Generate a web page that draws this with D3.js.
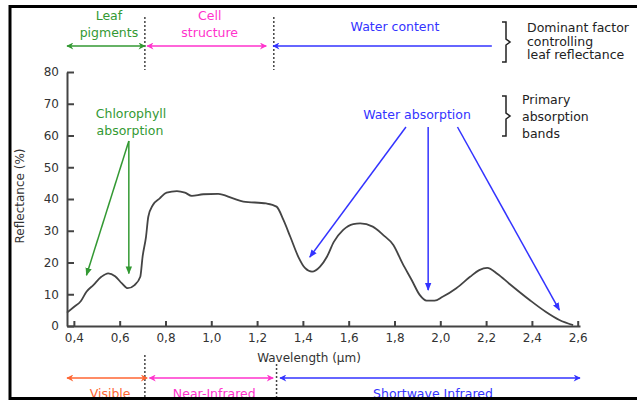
<!DOCTYPE html>
<html>
<head>
<meta charset="utf-8">
<script src="https://cdn.jsdelivr.net/npm/d3@7"></script>
<style>
  body { margin: 0; background: #fff; }
  svg { display: block; font-family: "DejaVu Sans", Verdana, sans-serif; }
</style>
</head>
<body>
<div id="chart"></div>
<script>
// leaf reflectance curve (wavelength in um, reflectance in %)
var wavelength = [0.37, 0.40, 0.43, 0.455, 0.485, 0.52, 0.55, 0.58, 0.61, 0.635, 0.665, 0.69, 0.70, 0.715, 0.725,
    0.745, 0.775, 0.805, 0.85, 0.885, 0.915, 0.965, 1.03, 1.095, 1.14, 1.24, 1.285, 1.315, 1.345, 1.38, 1.41,
    1.44, 1.475, 1.505, 1.535, 1.575, 1.62, 1.65, 1.705, 1.75, 1.795, 1.835, 1.875, 1.91, 1.94, 1.975, 2.01,
    2.07, 2.13, 2.17, 2.205, 2.25, 2.30, 2.39, 2.46, 2.52, 2.58];
var reflectance = [4.2, 6.0, 7.8, 10.8, 12.9, 15.5, 16.6, 15.7, 13.4, 11.9, 12.9, 15.5, 21.8, 28.1, 34.4,
    38.1, 40.2, 42.0, 42.5, 42.0, 41.0, 41.5, 41.6, 40.2, 39.2, 38.6, 37.6, 33.4, 28.1, 21.8, 18.2,
    17.1, 18.7, 21.8, 26.5, 30.2, 32.1, 32.3, 31.3, 28.7, 25.5, 19.7, 14.5, 9.8, 8.0, 8.0, 9.2,
    11.9, 15.5, 17.6, 18.3, 16.4, 13.4, 8.2, 4.5, 1.9, 0.3];

var xTicks = [0.4, 0.6, 0.8, 1.0, 1.2, 1.4, 1.6, 1.8, 2.0, 2.2, 2.4, 2.6];
var yTicks = [0, 10, 20, 30, 40, 50, 60, 70, 80];

// spectral regions (wavelength bounds)
var topBands = [
    {label: ["Leaf", "pigments"], from: 0.37, to: 0.71, color: "#339933", heads: 2},
    {label: ["Cell", "structure"], from: 0.72, to: 1.24, color: "#ff33cc", heads: 2},
    {label: ["Water content"], from: 1.27, to: 2.225, color: "#3333ff", heads: 1}
];
var bottomBands = [
    {label: "Visible", from: 0.37, to: 0.72, color: "#ff6633"},
    {label: "Near-Infrared", from: 0.73, to: 1.27, color: "#ff33cc"},
    {label: "Shortwave Infrared", from: 1.3, to: 2.61, color: "#3333ff"}
];
var dividers = [0.71, 1.273];

// absorption pointers: [start wavelength, end wavelength, end reflectance]
var chlorophyllPointers = [[0.64, 0.455, 16], [0.64, 0.64, 16.5]];
var waterPointers = [[1.85, 1.43, 21.7], [1.947, 1.947, 11.3], [2.075, 2.52, 5.0]];

var width = 637, height = 406;
var fs = "12.5px";

var svg = d3.select("#chart").append("svg")
    .attr("width", width)
    .attr("height", height);

var x = d3.scaleLinear().domain([0.37, 2.61]).range([67, 580]);
var y = d3.scaleLinear().domain([0, 80]).range([326, 72]);

// arrow markers
var defs = svg.append("defs");
function marker(id, color, open) {
    defs.append("marker")
        .attr("id", id)
        .attr("viewBox", "0 0 10 10")
        .attr("refX", 9).attr("refY", 5)
        .attr("markerWidth", open ? 9 : 8).attr("markerHeight", open ? 7 : 8)
        .attr("markerUnits", "userSpaceOnUse")
        .attr("orient", "auto-start-reverse")
        .append("path")
        .attr("d", open ? "M0,0 L10,5 L0,10 L3,5 Z" : "M0,1 L10,5 L0,9 Z")
        .attr("fill", color);
}
marker("mGreen", "#339933", true);
marker("mPink", "#ff33cc", true);
marker("mBlue", "#3333ff", true);
marker("mOrange", "#ff6633", true);
marker("pGreen", "#339933", false);
marker("pBlue", "#3333ff", false);
var markerFor = {"#339933": "mGreen", "#ff33cc": "mPink", "#3333ff": "mBlue", "#ff6633": "mOrange"};

// axes
var xAxis = d3.axisBottom(x)
    .tickValues(xTicks)
    .tickSizeInner(-5)
    .tickSizeOuter(0)
    .tickPadding(7)
    .tickFormat(function(d) { return d3.format(".1f")(d).replace(".", ","); });

var yAxis = d3.axisLeft(y)
    .tickValues(yTicks)
    .tickSizeInner(-7)
    .tickSizeOuter(0)
    .tickPadding(8);

var gx = svg.append("g").attr("transform", "translate(0," + y(0) + ")").call(xAxis);
var gy = svg.append("g").attr("transform", "translate(" + x(0.37) + ",0)").call(yAxis);

[gx, gy].forEach(function(g) {
    g.selectAll("path, line").attr("stroke", "#444").attr("stroke-width", 2);
    g.selectAll("text").attr("fill", "#333").style("font-size", "12px").style("font-family", "DejaVu Sans, Verdana, sans-serif");
});

svg.append("text")
    .attr("transform", "translate(24,196) rotate(-90)")
    .attr("text-anchor", "middle")
    .attr("fill", "#333")
    .style("font-size", "12px")
    .text("Reflectance (%)");

svg.append("text")
    .attr("x", 309).attr("y", 362)
    .attr("text-anchor", "middle")
    .attr("fill", "#333")
    .style("font-size", "12px")
    .text("Wavelength (\u00b5m)");

// curve
var points = wavelength.map(function(w, i) { return [w, reflectance[i]]; });
var line = d3.line()
    .x(function(d) { return x(d[0]); })
    .y(function(d) { return y(d[1]); })
    .curve(d3.curveMonotoneX);

svg.append("path")
    .datum(points)
    .attr("d", line)
    .attr("fill", "none")
    .attr("stroke", "#444")
    .attr("stroke-width", 1.8);

// dashed dividers, top and bottom
dividers.forEach(function(w) {
    svg.append("line")
        .attr("x1", x(w)).attr("x2", x(w))
        .attr("y1", 17).attr("y2", 70)
        .attr("stroke", "#444").attr("stroke-width", 1.5)
        .attr("stroke-dasharray", "2,2");
});
svg.append("line")
    .attr("x1", x(0.71)).attr("x2", x(0.71)).attr("y1", 355).attr("y2", 398)
    .attr("stroke", "#444").attr("stroke-width", 1.5).attr("stroke-dasharray", "2,2");
svg.append("line")
    .attr("x1", x(1.285)).attr("x2", x(1.285)).attr("y1", 364).attr("y2", 398)
    .attr("stroke", "#444").attr("stroke-width", 1.5).attr("stroke-dasharray", "2,2");

// top bands
topBands.forEach(function(b) {
    var l = svg.append("line")
        .attr("x1", x(b.from)).attr("x2", x(b.to))
        .attr("y1", 46).attr("y2", 46)
        .attr("stroke", b.color).attr("stroke-width", 1.6)
        .attr("marker-start", "url(#" + markerFor[b.color] + ")");
    if (b.heads == 2) l.attr("marker-end", "url(#" + markerFor[b.color] + ")");
    var cx = b.label.length == 2 ? (x(b.from) + x(b.to)) / 2 + 3 : 395;
    b.label.forEach(function(t, i) {
        svg.append("text")
            .attr("x", cx).attr("y", b.label.length == 2 ? 20 + i * 17 : 31)
            .attr("text-anchor", "middle")
            .attr("fill", b.color)
            .style("font-size", fs)
            .text(t);
    });
});

// bottom bands
bottomBands.forEach(function(b) {
    svg.append("line")
        .attr("x1", x(b.from)).attr("x2", x(b.to))
        .attr("y1", 378).attr("y2", 378)
        .attr("stroke", b.color).attr("stroke-width", 1.6)
        .attr("marker-start", "url(#" + markerFor[b.color] + ")")
        .attr("marker-end", "url(#" + markerFor[b.color] + ")");
    svg.append("text")
        .attr("x", (x(b.from) + x(b.to)) / 2 + 3).attr("y", 398)
        .attr("text-anchor", "middle")
        .attr("fill", b.color)
        .style("font-size", fs)
        .text(b.label);
});

// chlorophyll absorption pointers
svg.append("text").attr("x", 131).attr("y", 118).attr("text-anchor", "middle")
    .attr("fill", "#339933").style("font-size", fs).text("Chlorophyll");
svg.append("text").attr("x", 130).attr("y", 135).attr("text-anchor", "middle")
    .attr("fill", "#339933").style("font-size", fs).text("absorption");
chlorophyllPointers.forEach(function(p) {
    svg.append("line")
        .attr("x1", x(p[0])).attr("y1", 141)
        .attr("x2", x(p[1])).attr("y2", y(p[2]))
        .attr("stroke", "#339933").attr("stroke-width", 1.5)
        .attr("marker-end", "url(#pGreen)");
});

// water absorption pointers
svg.append("text").attr("x", 417).attr("y", 119).attr("text-anchor", "middle")
    .attr("fill", "#3333ff").style("font-size", fs).text("Water absorption");
waterPointers.forEach(function(p) {
    svg.append("line")
        .attr("x1", x(p[0])).attr("y1", 127)
        .attr("x2", x(p[1])).attr("y2", y(p[2]))
        .attr("stroke", "#3333ff").attr("stroke-width", 1.5)
        .attr("marker-end", "url(#pBlue)");
});

// braces and side notes
function brace(x0, y0, y1) {
    var m = (y0 + y1) / 2;
    svg.append("path")
        .attr("d", "M" + x0 + "," + y0 + " h4 v" + (m - y0 - 3) + " l4,3 l-4,3 V" + y1 + " h-4")
        .attr("fill", "none").attr("stroke", "#222").attr("stroke-width", 1.5);
}
brace(502, 22, 62);
brace(502, 96, 136);
["Dominant factor", "controlling", "leaf reflectance"].forEach(function(t, i) {
    svg.append("text").attr("x", 527).attr("y", 32 + i * 13.5)
        .attr("fill", "#222").style("font-size", fs).text(t);
});
["Primary", "absorption", "bands"].forEach(function(t, i) {
    svg.append("text").attr("x", 522).attr("y", 104 + i * 17)
        .attr("fill", "#222").style("font-size", fs).text(t);
});

// frame
svg.append("rect").attr("x", 0).attr("y", 400).attr("width", width).attr("height", 6).attr("fill", "#fff");
svg.append("rect")
    .attr("x", 10).attr("y", 6.5)
    .attr("width", 640).attr("height", 392)
    .attr("fill", "none").attr("stroke", "#000").attr("stroke-width", 3);
</script>
</body>
</html>
